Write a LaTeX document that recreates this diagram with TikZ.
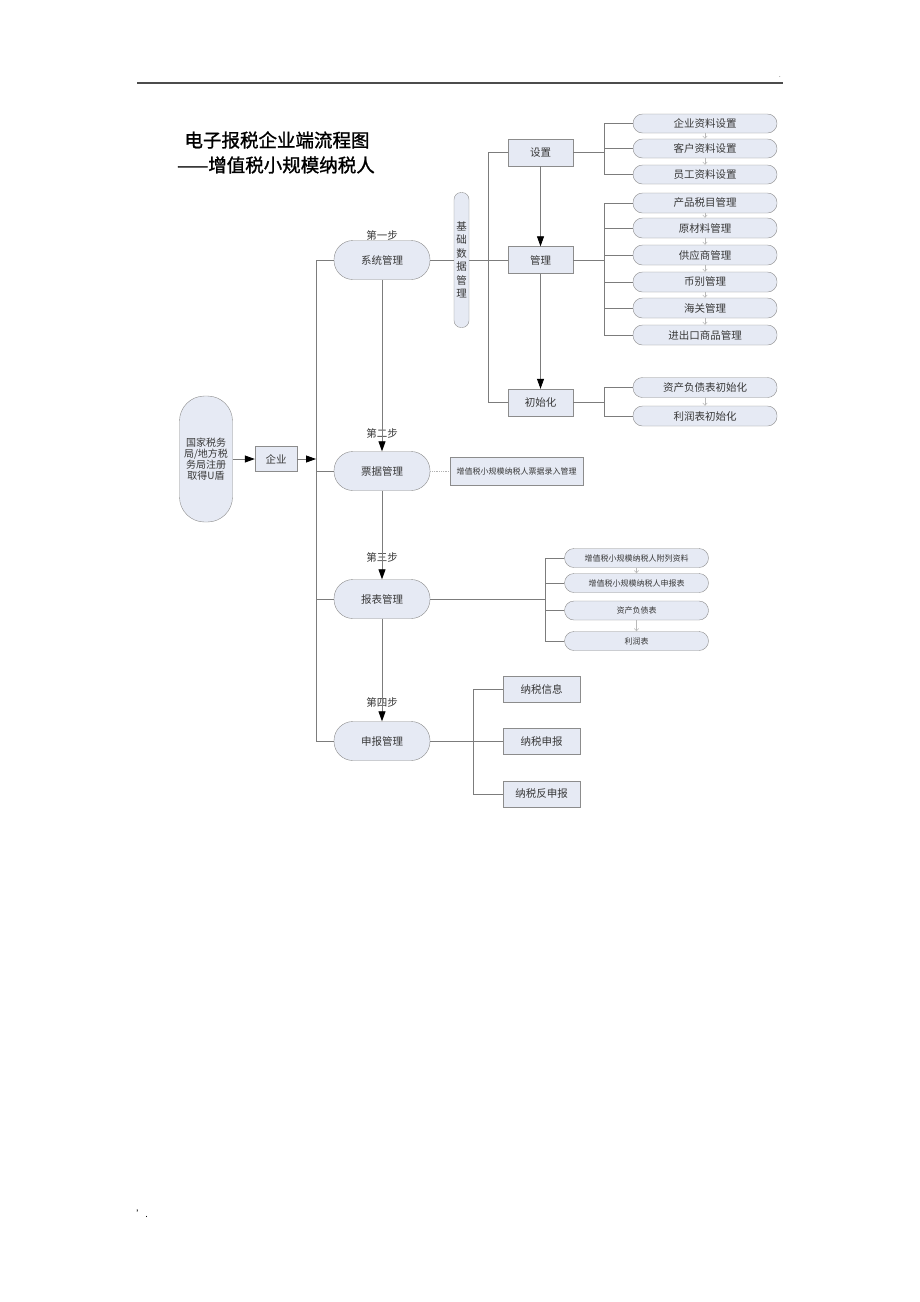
\documentclass[tikz,border=0pt]{standalone}
\usepackage{fontspec}
\setmainfont{Noto Sans CJK SC}
\newfontfamily\titlefont[FakeBold=1.2]{Noto Sans CJK SC}
\usetikzlibrary{arrows.meta}

\definecolor{boxfill}{HTML}{E6EAF4}
\definecolor{boxdraw}{HTML}{8C8C8C}
\definecolor{linegray}{HTML}{7C7C7C}
\definecolor{textgray}{HTML}{383838}

\tikzset{
  box/.style={draw=boxdraw, fill=boxfill, text=textgray, inner sep=1pt,
    font=\fontsize{10.5}{13.5}\selectfont, minimum width=65pt, minimum height=27pt},
  stadium/.style={box, rounded corners=19pt, minimum width=96pt, minimum height=39pt},
  pill/.style={box, rounded corners=9.5pt, minimum width=144pt, minimum height=19pt},
  smallpill/.style={pill, font=\fontsize{8}{9}\selectfont},
  steplabel/.style={text=textgray, font=\fontsize{10.5}{12}\selectfont, inner sep=0pt},
  titletext/.style={font=\titlefont\fontsize{18.5}{22}\selectfont},
  conn/.style={draw=linegray, line width=0.8pt},
  connarrow/.style={conn, -{Triangle[length=10pt,width=7pt,color=black]}},
  pillarrow/.style={draw=gray!55, line width=0.5pt, -{Straight Barb[length=2.5pt,width=4.5pt]}},
}

\begin{document}
\begin{tikzpicture}[x=1pt,y=-1pt]
  \useasboundingbox[fill=white] (0,0) rectangle (920,1302);

  %draw page rule and title
  \draw[line width=1.6pt, draw=black!70] (137,83) -- (783,83);
  \node[font=\fontsize{6}{6}\selectfont] (dottop) at (780,77) {.};
  \node[font=\fontsize{9}{9}\selectfont] (dotbottom) at (142,1214) {'.};
  \node[titletext] (title1) at (277,140) {电子报税企业端流程图};
  \node[titletext] (title2) at (276,165) {——增值税小规模纳税人};

  %draw start nodes
  \node[box, rounded corners=25pt, minimum width=53pt, minimum height=126pt, align=center,
    font=\fontsize{10}{11}\selectfont] (gs) at (206,459) {国家税务\\局/地方税\\务局注册\\取得U盾};
  \node[box, minimum width=42pt, minimum height=25pt] (qy) at (276,459) {企业};
  \coordinate (trunk) at (316,459);

  %draw steps
  \node[stadium] (xt) at (382,260) {系统管理};
  \node[stadium] (pj) at (382,471) {票据管理};
  \node[stadium] (bb) at (382,599) {报表管理};
  \node[stadium] (sb) at (382,741) {申报管理};
  \node[steplabel] (st1) at (382,235) {第一步};
  \node[steplabel] (st2) at (382,433) {第二步};
  \node[steplabel] (st3) at (382,557) {第三步};
  \node[steplabel] (st4) at (382,702) {第四步};

  %draw base data nodes
  \node[box, rounded corners=7pt, minimum width=15pt, minimum height=135pt, align=center,
    inner sep=0pt] (jc) at (461.5,260) {基\\础\\数\\据\\管\\理};
  \coordinate (jcj) at (488,260);
  \node[box] (sz) at (540.5,152.5) {设置};
  \node[box] (gl) at (540.5,260) {管理};
  \node[box] (cs) at (540.5,402.5) {初始化};

  \coordinate (szj) at (604,152.5);
  \foreach \y/\n/\t in {123.5/sz1/企业资料设置,148.5/sz2/客户资料设置,174.5/sz3/员工资料设置}
    \node[pill] (\n) at (705,\y) {\t};

  \coordinate (glj) at (604,260);
  \foreach \y/\n/\t in {203/gl1/产品税目管理,228/gl2/原材料管理,255/gl3/供应商管理,
      282/gl4/币别管理,308/gl5/海关管理,335/gl6/进出口商品管理}
    \node[pill, minimum height=20pt] (\n) at (705,\y) {\t};

  \coordinate (csj) at (604,402.5);
  \foreach \y/\n/\t in {387.5/cs1/资产负债表初始化,416/cs2/利润表初始化}
    \node[pill, minimum height=20pt] (\n) at (705,\y) {\t};

  %draw report nodes
  \node[box, minimum width=133pt, minimum height=28pt, font=\fontsize{8}{9}\selectfont]
    (pjlr) at (516.5,471) {增值税小规模纳税人票据录入管理};

  \coordinate (bbj) at (545,599);
  \foreach \y/\n/\t in {558/bb1/增值税小规模纳税人附列资料,583/bb2/增值税小规模纳税人申报表,
      610.5/bb3/资产负债表,641/bb4/利润表}
    \node[smallpill] (\n) at (636.5,\y) {\t};

  \coordinate (sbj) at (473,741);
  \foreach \y/\n/\t in {689/sb1/纳税信息,741.5/sb2/纳税申报,794/sb3/纳税反申报}
    \node[box, minimum width=77pt, minimum height=26pt] (\n) at (541.5,\y) {\t};

  %draw connectors
  \draw[connarrow] (gs) -- (qy);
  \draw[connarrow] (qy) -- (trunk);
  \foreach \n in {xt,pj,bb,sb}
    \draw[conn] (trunk) |- (\n.west);
  \draw[connarrow] (xt) -- (pj);
  \draw[connarrow] (pj) -- (bb);
  \draw[connarrow] (bb) -- (sb);

  \draw[conn] (xt) -- (jc);
  \draw[conn] (jc) -- (jcj);
  \foreach \n in {sz,gl,cs}
    \draw[conn] (jcj) |- (\n.west);
  \draw[connarrow] (sz) -- (gl);
  \draw[connarrow] (gl) -- (cs);

  \draw[conn] (sz) -- (szj);
  \foreach \n in {sz1,sz2,sz3}
    \draw[conn] (szj) |- (\n.west);
  \draw[conn] (gl) -- (glj);
  \foreach \n in {gl1,gl2,gl3,gl4,gl5,gl6}
    \draw[conn] (glj) |- (\n.west);
  \draw[conn] (cs) -- (csj);
  \foreach \n in {cs1,cs2}
    \draw[conn] (csj) |- (\n.west);

  \draw[conn, densely dotted, draw=gray!60] (pj) -- (pjlr);
  \draw[conn] (bb) -- (bbj);
  \foreach \n in {bb1,bb2,bb3,bb4}
    \draw[conn] (bbj) |- (\n.west);
  \draw[conn] (sb) -- (sbj);
  \foreach \n in {sb1,sb2,sb3}
    \draw[conn] (sbj) |- (\n.west);

  %draw small arrows between list items
  \foreach \a/\b in {sz1/sz2,sz2/sz3,gl1/gl2,gl2/gl3,gl3/gl4,gl4/gl5,gl5/gl6,cs1/cs2,bb1/bb2,bb3/bb4}
    \draw[pillarrow] (\a) -- (\b);
\end{tikzpicture}
\end{document}
